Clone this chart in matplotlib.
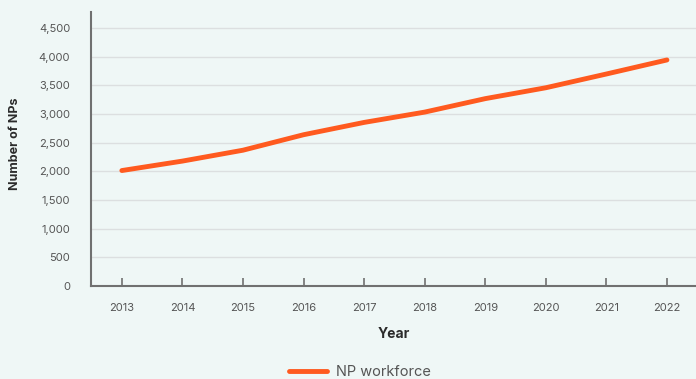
import matplotlib.pyplot as plt
from matplotlib.ticker import FuncFormatter

# NP workforce by year
years = [2013, 2014, 2015, 2016, 2017, 2018, 2019, 2020, 2021, 2022]
np_workforce = [2015, 2180, 2370, 2640, 2855, 3035, 3270, 3460, 3700, 3945]
y_ticks = [0, 500, 1000, 1500, 2000, 2500, 3000, 3500, 4000, 4500]

bg = "#eff7f6"
orange = "#ff5a1f"

plt.rcParams['font.family'] = ['Inter', 'DejaVu Sans']

fig = plt.figure(figsize=(6.96, 3.79), dpi=100, facecolor=bg)
ax = fig.add_axes([0.1307, 0.2454, 0.8693, 0.7226])
ax.set_facecolor(bg)

ax.plot(years, np_workforce, color=orange, linewidth=3.5, solid_capstyle="round",
        label="NP workforce")

ax.set_xlim(2012.49, 2022.48)
ax.set_ylim(0, 4780)
ax.set_xticks(years)
ax.set_yticks(y_ticks)
ax.yaxis.set_major_formatter(FuncFormatter(lambda v, p: f"{int(v):,}"))

ax.grid(axis="y", color="#dcdfe0", linewidth=1)
ax.set_axisbelow(True)

for s in ["top", "right"]:
    ax.spines[s].set_visible(False)
for s in ["left", "bottom"]:
    ax.spines[s].set_color("#707070")
    ax.spines[s].set_linewidth(1.5)

ax.tick_params(axis="x", direction="in", length=6, width=1.2, color="#707070",
               labelsize=8, labelcolor="#555555", pad=12)
ax.tick_params(axis="y", length=0, labelsize=8, labelcolor="#555555", pad=15)

ax.set_xlabel("Year", fontsize=10, fontweight="bold", color="#2b2b2b", labelpad=10)
ax.set_ylabel("Number of NPs", fontsize=9, fontweight="bold", color="#2b2b2b")
ax.yaxis.set_label_coords(-0.115, 0.52)

fig.legend(loc="lower center", bbox_to_anchor=(0.517, -0.035), frameon=False,
           fontsize=10.5, labelcolor="#555555", handlelength=2.6, handletextpad=0.6)

fig.savefig("out.png", dpi=100, facecolor=bg)
